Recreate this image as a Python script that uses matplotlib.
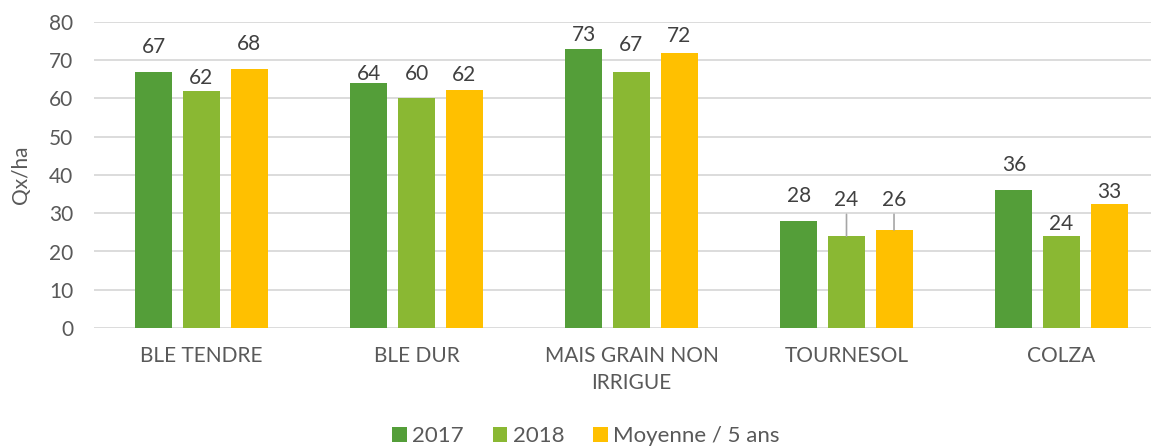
import matplotlib
matplotlib.use("Agg")
import matplotlib.pyplot as plt
import numpy as np

categories = ["BLE TENDRE", "BLE DUR", "MAIS GRAIN NON\nIRRIGUE", "TOURNESOL", "COLZA"]
series_names = ["2017", "2018", "Moyenne / 5 ans"]
v2017 = [67, 64, 73, 28, 36]
v2018 = [62, 60, 67, 24, 24]
vmoy = [67.6, 62.3, 72, 25.6, 32.5]
label_2017 = ["67", "64", "73", "28", "36"]
label_2018 = ["62", "60", "67", "24", "24"]
label_moy = ["68", "62", "72", "26", "33"]

colors = ["#549E39", "#8AB833", "#FFC000"]
# label vertical offsets in pixels above bar top (manual Excel placement)
offsets = [
    [25, 9, 14, 25, 25],
    [13, 24, 27, 36, 12],
    [25, 15, 17, 30, 12],
]
leaders = [
    [False] * 5,
    [False, False, False, True, False],
    [False, False, False, True, False],
]

W, H = 1151, 448
fig = plt.figure(figsize=(W / 100, H / 100), dpi=100)
left_px, right_px = 94, 94 + 1075
bottom_px, top_px = 328, 22
ax = fig.add_axes([left_px / W, (H - bottom_px) / H, (right_px - left_px) / W, (bottom_px - top_px) / H])

font = "Lato"
txt_col = "#595959"
lab_col = "#404040"

x = np.arange(len(categories))
bw = 0.172
step = 0.221
all_vals = [v2017, v2018, vmoy]
all_labels = [label_2017, label_2018, label_moy]
for i, (vals, labs) in enumerate(zip(all_vals, all_labels)):
    xs = x + (i - 1) * step
    ax.bar(xs, vals, width=bw, color=colors[i], label=series_names[i], zorder=3)
    for j, (xx, v, l) in enumerate(zip(xs, vals, labs)):
        kw = {}
        if leaders[i][j]:
            kw["arrowprops"] = dict(arrowstyle="-", color="#A6A6A6", lw=1.2, shrinkA=1, shrinkB=0)
        ax.annotate(l, xy=(xx, v), xytext=(0, offsets[i][j]), textcoords="offset pixels",
                    ha="center", va="center", fontsize=15, color=lab_col, family=font, **kw)

ax.set_xlim(-0.5, 4.5)
ax.set_ylim(0, 80)
ax.set_yticks(range(0, 81, 10))
ax.grid(axis="y", color="#D9D9D9", lw=1.3, zorder=0)
ax.set_axisbelow(True)
for s in ax.spines.values():
    s.set_visible(False)
ax.set_xticks(x)
ax.set_xticklabels(categories, family=font, fontsize=15, color=txt_col, linespacing=1.45)
ax.tick_params(axis="x", length=0, pad=13)
ax.tick_params(axis="y", length=0, pad=15, labelsize=15, labelcolor=txt_col)
for t in ax.get_yticklabels():
    t.set_family(font)
ax.set_ylabel("Qx/ha", family=font, fontsize=15, color=txt_col)
ax.yaxis.set_label_coords((31 - left_px) / (right_px - left_px), 0.5)

leg = fig.legend(loc="center", bbox_to_anchor=(586 / W, (H - 436) / H), ncol=3, frameon=False,
                 prop={"family": font, "size": 16}, handlelength=0.65, handleheight=0.65,
                 handletextpad=0.25, columnspacing=1.3)
for t in leg.get_texts():
    t.set_color(txt_col)

fig.savefig("out.png", dpi=100)
